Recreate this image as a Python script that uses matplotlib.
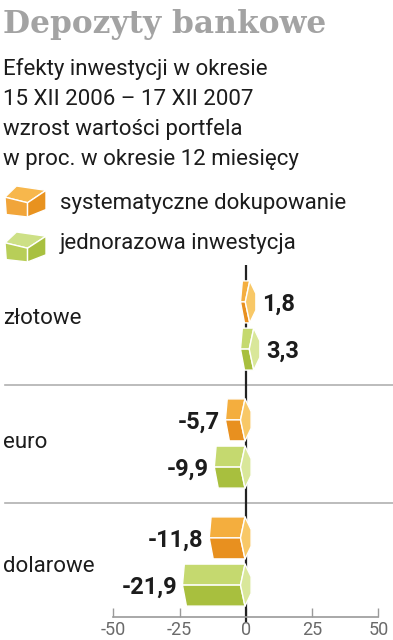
#!/usr/bin/env python3
"""Depozyty bankowe: 3D-style prism bars, two series per currency."""

import matplotlib

matplotlib.use("Agg")
import matplotlib.pyplot as plt
from matplotlib.patches import Polygon
from matplotlib.transforms import blended_transform_factory

categories = ["złotowe", "euro", "dolarowe"]
series_names = ["systematyczne dokupowanie", "jednorazowa inwestycja"]
systematic = [1.8, -5.7, -11.8]
one_off = [3.3, -9.9, -21.9]
x_ticks = [-50, -25, 0, 25, 50]

title = "Depozyty bankowe"
subtitle = [
    "Efekty inwestycji w okresie",
    "15 XII 2006 \u2013 17 XII 2007",
    "wzrost wartości portfela",
    "w proc. w okresie 12 miesięcy",
]

# (upper face, lower face, end cap)
ORANGE = ("#F4AE3E", "#E8901F", "#F8C867")
GREEN = ("#C5D96F", "#A8BF3E", "#D9E79A")
# icon faces (top, left, right)
ORANGE_ICON = ("#F7B74C", "#F1A53A", "#E8921F")
GREEN_ICON = ("#CDE086", "#B8CE58", "#A8C040")

W, H = 393, 640
TEXT = "#1c1c1c"


def px(x, y):
    return (x / W, 1 - y / H)


def prism(ax, v, yc, h, colors):
    xl, xr = min(v, 0), max(v, 0)
    top, bot = yc - h / 2, yc + h / 2
    upper = [(xl - 1.3, top), (xr - 0.3, top), (xr - 2, yc), (xl - 2, yc)]
    lower = [(xl - 2, yc), (xr - 2, yc), (xr - 0.3, bot), (xl - 0.5, bot)]
    cap = [(xr - 0.3, top), (xr + 2, top + 0.3 * h), (xr + 2, bot - 0.3 * h),
           (xr - 0.3, bot), (xr - 2, yc)]
    for pts, c in zip((upper, lower, cap), colors):
        ax.add_patch(Polygon(pts, closed=True, facecolor=c, edgecolor="white",
                             linewidth=1.0, joinstyle="round", zorder=3))


def cube_icon(fig, x0, y0, w, h, colors):
    # unit coordinates, y up
    top = [(0, 0.64), (0.28, 1.0), (1.0, 0.86), (0.55, 0.46)]
    left = [(0, 0.64), (0.55, 0.46), (0.55, 0.0), (0.03, 0.08)]
    right = [(0.55, 0.46), (1.0, 0.86), (1.0, 0.24), (0.55, 0.0)]
    for pts, c in zip((top, left, right), colors):
        pp = [px(x0 + u * w, y0 + h - v * h) for u, v in pts]
        fig.add_artist(Polygon(pp, closed=True, facecolor=c, edgecolor="white",
                               linewidth=1.0, transform=fig.transFigure))


def main():
    plt.rcParams["font.family"] = ["Roboto", "DejaVu Sans"]
    fig = plt.figure(figsize=(W / 100, H / 100), dpi=100)

    # chart area: x -50 -> 113 px, 50 -> 378 px; group pitch 118 px
    y_top_px, y_bot_px = 262, 617
    g0, pitch = 325.5, 118.0
    ax = fig.add_axes([113.3 / W, 1 - y_bot_px / H, 265 / W, (y_bot_px - y_top_px) / H])
    ax.set_xlim(-50, 50)
    ax.set_ylim((y_bot_px - g0) / pitch, (y_top_px - g0) / pitch)

    ax.vlines(0, (265 - g0) / pitch, (622 - g0) / pitch, color="#222222",
              linewidth=1.6, zorder=2, clip_on=False)

    for sep in (0.5, 1.5):
        ax.axhline(sep, xmin=(5 - 113.3) / 265, xmax=(393 - 113.3) / 265,
                   color="#b0b0b0", linewidth=1.2, clip_on=False, zorder=1)

    h = 0.356
    for s, (vals, cols) in enumerate(((systematic, ORANGE), (one_off, GREEN))):
        for g, v in enumerate(vals):
            yc = g - 0.2 + 0.4 * s
            prism(ax, v, yc, h, cols)
            lbl = f"{v:.1f}".replace(".", ",")
            if v >= 0:
                ax.annotate(lbl, (v + 2, yc), xytext=(4.5, 0), textcoords="offset points",
                            ha="left", va="center_baseline", fontsize=17,
                            fontweight="bold", color=TEXT)
            else:
                ax.annotate(lbl, (v - 2, yc), xytext=(-4, 0), textcoords="offset points",
                            ha="right", va="center_baseline", fontsize=17,
                            fontweight="bold", color=TEXT)

    trans = blended_transform_factory(fig.transFigure, ax.transData)
    label_shift = [-0.08, -0.03, 0.02]
    for g, name in enumerate(categories):
        ax.text(3 / W, g + label_shift[g], name, transform=trans, ha="left",
                va="center_baseline", fontsize=16, color=TEXT)

    for side in ("top", "left", "right"):
        ax.spines[side].set_visible(False)
    ax.spines["bottom"].set_color("#9a9a9a")
    ax.spines["bottom"].set_linewidth(1.2)
    ax.set_yticks([])
    ax.set_xticks(x_ticks)
    ax.set_xticklabels([str(t) for t in x_ticks])
    ax.tick_params(axis="x", direction="in", length=6.5, width=1.0, color="#9a9a9a",
                   labelsize=13, labelcolor="#6a6a6a", pad=3)
    ax.patch.set_alpha(0)

    # header
    fig.text(*px(3, 33), title, fontsize=22.5, fontweight="heavy",
             family=["DejaVu Serif"], color="#a3a3a3", ha="left", va="baseline")
    for i, line in enumerate(subtitle):
        fig.text(*px(3, 75 + 30 * i), line, fontsize=16, color=TEXT,
                 ha="left", va="baseline")

    # legend
    cube_icon(fig, 5, 186, 41, 31, ORANGE_ICON)
    cube_icon(fig, 5, 232, 41, 30, GREEN_ICON)
    fig.text(*px(60, 209), series_names[0], fontsize=16, color=TEXT, va="baseline")
    fig.text(*px(60, 249), series_names[1], fontsize=16, color=TEXT, va="baseline")

    fig.savefig("out.png", dpi=100)
    plt.close(fig)


if __name__ == "__main__":
    main()
